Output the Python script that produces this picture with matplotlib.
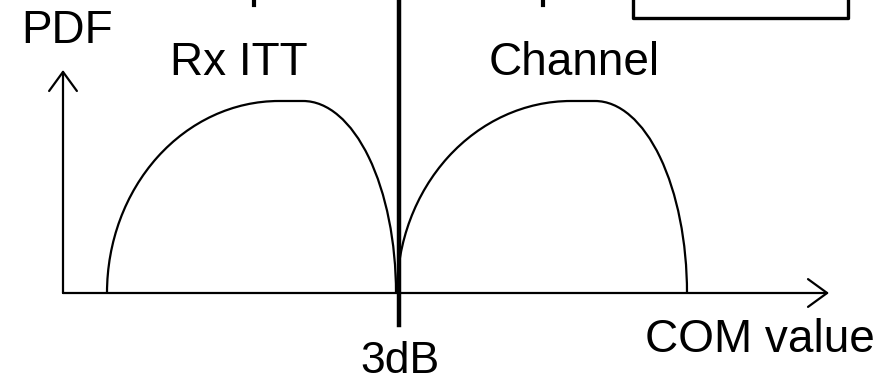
import matplotlib
matplotlib.use('Agg')
import matplotlib.pyplot as plt
from matplotlib.patches import Arc, FancyArrowPatch

plt.rcParams['font.family'] = ['Liberation Sans', 'DejaVu Sans']

# schematic distributions (x = COM value, y = PDF), origin at the axes corner
labels = ['Rx ITT', 'Channel']
starts = [44, 334]
peak_lo = [216, 508]
peak_hi = [240, 532]
ends = [333, 624]
heights = [192, 192]

threshold_x = 336
threshold_label = '3dB'
top_ticks = [191, 480]
box_left, box_right, box_bottom = 570, 785, 275

fig = plt.figure(figsize=(8.95, 3.84), dpi=100)
ax = fig.add_axes([0, 0, 1, 1])
ax.set_xlim(-63, 832)
ax.set_ylim(-91, 293)
ax.set_aspect('equal')
ax.axis('off')

# curves: two quarter ellipses joined by a flat top
for s, lo, hi, e, h in zip(starts, peak_lo, peak_hi, ends, heights):
    ax.add_patch(Arc((lo, 0), 2 * (lo - s), 2 * h, theta1=90, theta2=180,
                     color='black', lw=1.6))
    ax.plot([lo, hi], [h, h], color='black', lw=1.6, solid_capstyle='butt')
    ax.add_patch(Arc((hi, 0), 2 * (e - hi), 2 * h, theta1=0, theta2=90,
                     color='black', lw=1.6))

# axes with open arrow heads
for end in [(0, 223), (766, 0)]:
    ax.add_patch(FancyArrowPatch((0, 0), end, arrowstyle='->,head_length=0.55,head_width=0.4',
                                 mutation_scale=25, color='black', lw=1.6,
                                 shrinkA=0, shrinkB=0))

# threshold line
ax.plot([threshold_x, threshold_x], [-32, 300], color='black', lw=3.2)

# partial items at the top edge
for t in top_ticks:
    ax.plot([t, t], [288, 300], color='black', lw=3)
ax.plot([box_left, box_left, box_right, box_right],
        [300, box_bottom, box_bottom, 300], color='black', lw=2.4,
        solid_joinstyle='round')

fs = 33
ax.text(4, 250, 'PDF', fontsize=fs, ha='center', va='baseline')
ax.text(176, 218, labels[0], fontsize=fs, ha='center', va='baseline')
ax.text(511, 218, labels[1], fontsize=fs, ha='center', va='baseline')
ax.text(threshold_x + 1, -80, threshold_label, fontsize=32, ha='center', va='baseline')
ax.text(697, -59, 'COM value', fontsize=fs, ha='center', va='baseline')

plt.savefig('out.png', dpi=100)
